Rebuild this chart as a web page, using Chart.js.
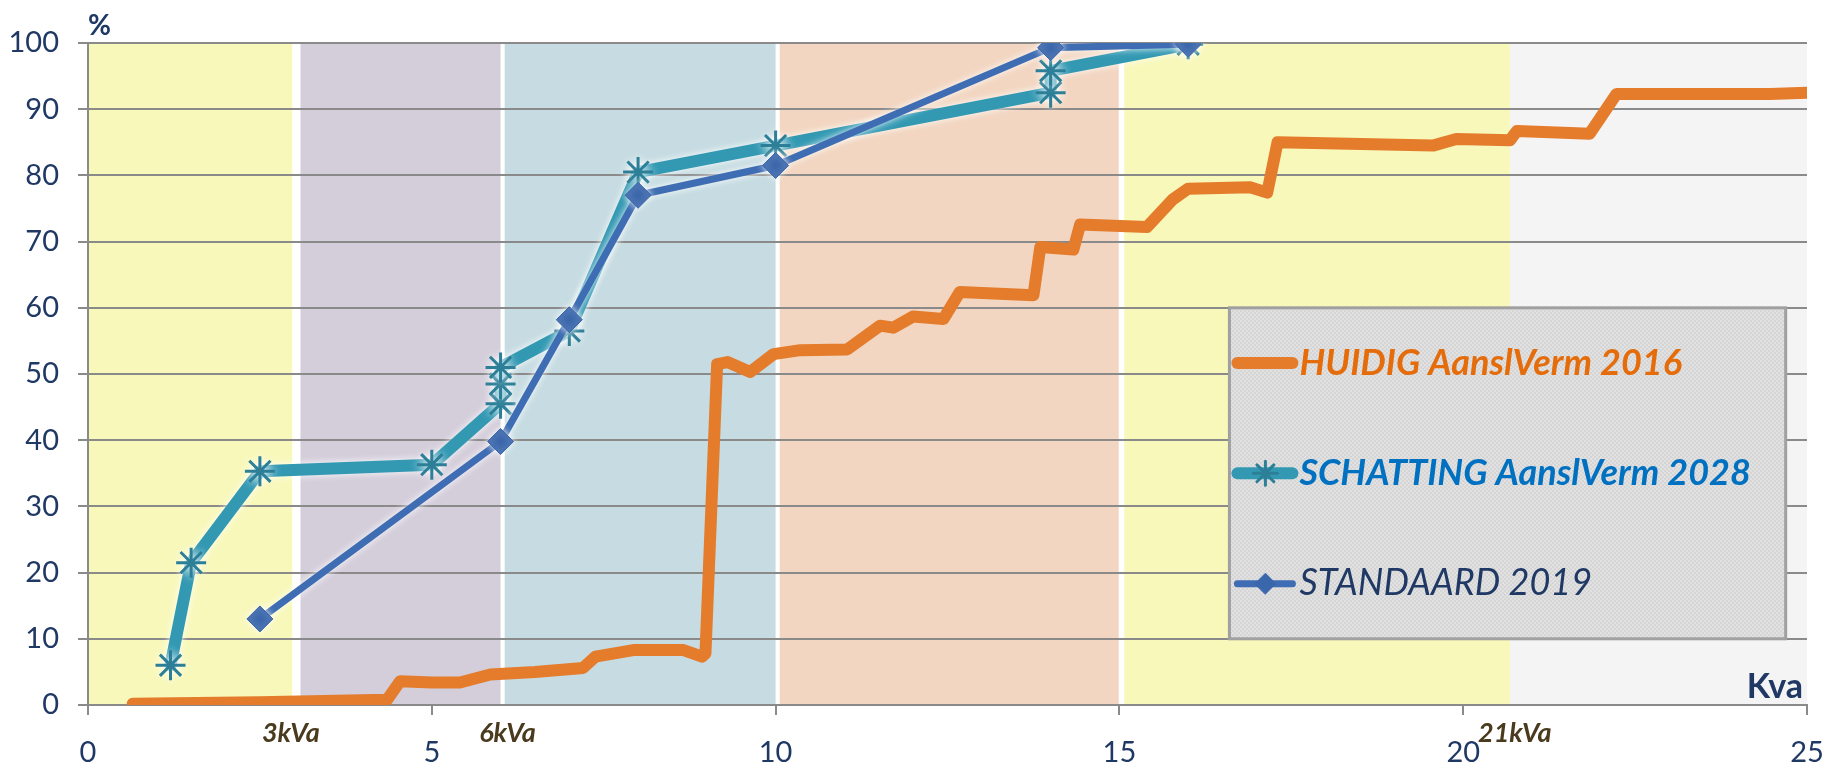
<!DOCTYPE html>
<html>
<head>
<meta charset="utf-8">
<script src="https://cdn.jsdelivr.net/npm/chart.js@4.4.0/dist/chart.umd.min.js"></script>
<style>
  html, body { margin: 0; padding: 0; background: #fff; }
  #wrap { width: 1825px; height: 764px; }
</style>
</head>
<body>
<div id="wrap"><canvas id="kvaChart" width="1825" height="764"></canvas></div>
<script>
// HUIDIG AanslVerm 2016 - stepped cumulative curve (kVA, %)
const huidigKva = [0.65, 2.5, 4.35, 4.54, 5.0, 5.41, 5.85, 6.5, 7.2, 7.38, 7.93, 8.66, 8.93, 8.98, 9.15, 9.3, 9.63, 9.97, 10.36, 11.04, 11.52, 11.71, 12.0, 12.44, 12.68, 13.75, 13.85, 14.33, 14.43, 15.4, 15.78, 16.0, 16.9, 17.15, 17.3, 19.56, 19.9, 20.68, 20.78, 21.84, 22.23, 24.46, 25];
const huidigPct = [0.2, 0.4, 0.8, 3.6, 3.4, 3.4, 4.6, 5.0, 5.6, 7.3, 8.3, 8.3, 7.3, 7.8, 51.5, 51.8, 50.3, 53.0, 53.6, 53.7, 57.3, 57.0, 58.7, 58.3, 62.4, 61.9, 69.2, 68.8, 72.6, 72.2, 76.4, 78.0, 78.2, 77.4, 85.0, 84.5, 85.5, 85.3, 86.7, 86.3, 92.3, 92.3, 92.5];

// SCHATTING AanslVerm 2028
const schattingKva = [1.2, 1.5, 2.5, 5, 6, 6, 6, 7, 8, 10, 14, 14, 16];
const schattingPct = [6, 21.5, 35.3, 36.3, 45.5, 48.5, 51, 56.5, 80.5, 84.5, 92.5, 95.8, 99.8];

// STANDAARD 2019
const standaardKva = [2.5, 6, 7, 8, 10, 14, 16];
const standaardPct = [13, 39.8, 58.2, 77, 81.5, 99.3, 99.8];

const seriesLabels = ['HUIDIG AanslVerm 2016', 'SCHATTING AanslVerm 2028', 'STANDAARD 2019'];

// axis ticks
const xTicks = [0, 5, 10, 15, 20, 25];
const yTicks = [0, 10, 20, 30, 40, 50, 60, 70, 80, 90, 100];

// background kVA bands
const bandFrom = [0, 3.09, 6.06, 10.06, 15.07, 20.68];
const bandTo = [2.97, 6.0, 10.0, 14.99, 20.68, 25];
const bandColors = ['#f8f8bb', '#d4cedb', '#c6dce2', '#f2d6c1', '#f8f8bb', '#f4f4f4'];

// kVA markers under the axis
const kvaMarks = ['3kVa', '6kVa', '21kVa'];
const kvaMarkAt = [2.95, 6.1, 20.75];

const FONT = "Lato, 'Open Sans', sans-serif";
const NAVY = '#1f3864';

function toPoints(xs, ys) {
  return xs.map((x, i) => ({ x: x, y: ys[i] }));
}

const bandsPlugin = {
  id: 'bands',
  beforeDraw(chart) {
    const { ctx, chartArea, scales } = chart;
    ctx.save();
    bandFrom.forEach((from, i) => {
      const x1 = scales.x.getPixelForValue(from);
      const x2 = scales.x.getPixelForValue(bandTo[i]);
      ctx.fillStyle = bandColors[i];
      ctx.fillRect(x1, chartArea.top, x2 - x1, chartArea.bottom - chartArea.top);
    });
    ctx.restore();
  }
};

// white halo round the markers, like the original
const haloPlugin = {
  id: 'halo',
  beforeDatasetDraw(chart, args) {
    if (args.index === 0) return;
    chart.ctx.save();
    chart.ctx.shadowColor = 'rgba(255,255,255,0.95)';
    chart.ctx.shadowBlur = 7;
  },
  afterDatasetDraw(chart, args) {
    if (args.index === 0) return;
    chart.ctx.restore();
  }
};

function makePattern(ctx) {
  const pc = document.createElement('canvas');
  pc.width = 4; pc.height = 4;
  const p = pc.getContext('2d');
  p.fillStyle = '#d5d5d5';
  p.fillRect(0, 0, 4, 4);
  p.fillStyle = '#e1e1e1';
  p.fillRect(0, 0, 2, 2);
  p.fillRect(2, 2, 2, 2);
  return ctx.createPattern(pc, 'repeat');
}

const extrasPlugin = {
  id: 'extras',
  afterDraw(chart) {
    const { ctx, chartArea, scales: { x, y } } = chart;
    ctx.save();

    // axis captions
    ctx.fillStyle = NAVY;
    ctx.font = "bold 28px " + FONT;
    ctx.textAlign = 'left';
    ctx.textBaseline = 'middle';
    ctx.fillText('%', chartArea.left, chartArea.top - 17);
    ctx.font = "bold 34px " + FONT;
    ctx.textAlign = 'right';
    ctx.fillText('Kva', chartArea.right - 4, chartArea.bottom - 18);

    // kVA marks
    ctx.fillStyle = '#4a3a1e';
    ctx.font = "italic bold 27px " + FONT;
    ctx.textAlign = 'center';
    kvaMarks.forEach((t, i) => {
      ctx.fillText(t, x.getPixelForValue(kvaMarkAt[i]), chartArea.bottom + 28);
    });

    // legend box
    const l = x.getPixelForValue(16.6), r = x.getPixelForValue(24.69);
    const t = y.getPixelForValue(60), b = y.getPixelForValue(10);
    ctx.fillStyle = makePattern(ctx);
    ctx.fillRect(l, t, r - l, b - t);
    ctx.strokeStyle = '#a0a0a0';
    ctx.lineWidth = 3;
    ctx.strokeRect(l, t, r - l, b - t);

    const textStyles = [
      { color: '#e46c0a', font: "italic bold 36px " + FONT },
      { color: '#0070c0', font: "italic bold 36px " + FONT },
      { color: NAVY, font: "italic 36px " + FONT }
    ];
    chart.data.datasets.forEach((ds, i) => {
      const rowY = t + (b - t) * (i + 0.5) / 3;
      const lx = l + 8;
      ctx.lineCap = 'round';
      ctx.strokeStyle = ds.borderColor;
      ctx.lineWidth = ds.borderWidth;
      ctx.beginPath();
      ctx.moveTo(lx, rowY);
      ctx.lineTo(lx + 55, rowY);
      ctx.stroke();
      if (ds.pointRadius > 0) {
        ctx.fillStyle = ds.pointBackgroundColor;
        ctx.strokeStyle = ds.pointBorderColor;
        ctx.lineWidth = ds.pointBorderWidth;
        Chart.helpers.drawPoint(ctx, {
          pointStyle: ds.pointStyle,
          radius: ds.pointRadius * 0.8,
          rotation: 0,
          borderWidth: ds.pointBorderWidth
        }, lx + 28, rowY);
      }
      ctx.fillStyle = textStyles[i].color;
      ctx.font = textStyles[i].font;
      ctx.textAlign = 'left';
      ctx.textBaseline = 'middle';
      ctx.fillText(ds.label, lx + 62, rowY);
    });
    ctx.restore();
  }
};

Chart.defaults.font.family = FONT;
Chart.defaults.color = NAVY;

const ctx = document.getElementById('kvaChart');
new Chart(ctx, {
  type: 'line',
  data: {
    datasets: [
      {
        label: seriesLabels[0],
        data: toPoints(huidigKva, huidigPct),
        borderColor: '#e47c2c',
        borderWidth: 12,
        pointRadius: 0,
        borderJoinStyle: 'round',
        borderCapStyle: 'round',
        order: 3
      },
      {
        label: seriesLabels[1],
        data: toPoints(schattingKva, schattingPct),
        borderColor: '#3399b3',
        borderWidth: 12,
        pointStyle: 'star',
        pointRadius: 15,
        pointBorderWidth: 3,
        pointBorderColor: '#2d7f98',
        pointBackgroundColor: '#2d7f98',
        borderJoinStyle: 'round',
        borderCapStyle: 'round',
        order: 2
      },
      {
        label: seriesLabels[2],
        data: toPoints(standaardKva, standaardPct),
        borderColor: '#3f6db3',
        borderWidth: 7,
        pointStyle: 'rectRot',
        pointRadius: 13,
        pointBorderWidth: 1,
        pointBorderColor: '#3a66ab',
        pointBackgroundColor: '#3a66ab',
        borderJoinStyle: 'round',
        order: 1
      }
    ]
  },
  options: {
    responsive: false,
    animation: false,
    layout: { padding: { top: 43, right: 18, left: 0, bottom: 0 } },
    plugins: {
      legend: { display: false },
      tooltip: { enabled: false }
    },
    scales: {
      x: {
        type: 'linear',
        min: 0,
        max: 25,
        afterBuildTicks(scale) {
          scale.ticks = xTicks.map(v => ({ value: v }));
        },
        afterFit(scale) {
          scale.height = 59;
          scale.paddingLeft = 0;
          scale.paddingRight = 0;
        },
        grid: { display: true, drawOnChartArea: false, tickLength: 10, color: '#8a8a8a', lineWidth: 2 },
        border: { display: true, color: '#8a8a8a', width: 2 },
        ticks: { font: { size: 29 }, color: NAVY, padding: 20, maxRotation: 0 }
      },
      y: {
        min: 0,
        max: 100,
        afterBuildTicks(scale) {
          scale.ticks = yTicks.map(v => ({ value: v }));
        },
        afterFit(scale) { scale.width = 88; },
        grid: { color: '#8a8a8a', lineWidth: 2, tickLength: 10 },
        border: { display: true, color: '#8a8a8a', width: 2 },
        ticks: { font: { size: 29 }, color: NAVY, padding: 19 }
      }
    }
  },
  plugins: [bandsPlugin, haloPlugin, extrasPlugin]
});
</script>
</body>
</html>
